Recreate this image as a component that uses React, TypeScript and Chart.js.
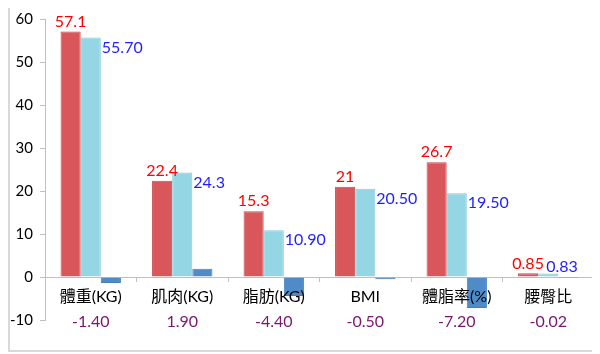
import React, { useEffect, useRef } from "react";
import { Chart, registerables } from "chart.js";
Chart.register(...registerables);

const categories = ["體重(KG)", "肌肉(KG)", "脂肪(KG)", "BMI", "體脂率(%)", "腰臀比"];
const beforeValues = [57.1, 22.4, 15.3, 21, 26.7, 0.85];
const afterValues = [55.7, 24.3, 10.9, 20.5, 19.5, 0.83];
const changeValues = [-1.4, 1.9, -4.4, -0.5, -7.2, -0.02];
const beforeLabels = ["57.1", "22.4", "15.3", "21", "26.7", "0.85"];
const afterLabels = ["55.70", "24.3", "10.90", "20.50", "19.50", "0.83"];
const changeLabels = ["-1.40", "1.90", "-4.40", "-0.50", "-7.20", "-0.02"];
const yMin = -10;
const yMax = 60;
const yStep = 10;

const FONT = 'Lato, "Noto Sans CJK TC", sans-serif';

const labelPlugin = {
  id: "valueLabels",
  afterDraw(chart: any) {
    const ctx = chart.ctx;
    const zero = chart.scales.y.getPixelForValue(0);
    ctx.save();
    ctx.font = `16px ${FONT}`;
    const m0 = chart.getDatasetMeta(0);
    m0.data.forEach((bar: any, i: number) => {
      ctx.fillStyle = "#FF0000";
      ctx.textAlign = "center";
      ctx.textBaseline = "bottom";
      ctx.fillText(beforeLabels[i], bar.x, bar.y - 2);
    });
    const m1 = chart.getDatasetMeta(1);
    m1.data.forEach((bar: any, i: number) => {
      const h = zero - bar.y;
      ctx.fillStyle = "#1E1EFF";
      ctx.textAlign = "left";
      ctx.textBaseline = "middle";
      if (h < 15) {
        ctx.fillText(afterLabels[i], bar.x - 2, bar.y - 7);
      } else {
        ctx.fillText(afterLabels[i], bar.x + bar.width / 2 + 1, bar.y + 10);
      }
    });
    ctx.fillStyle = "#7A1570";
    ctx.textAlign = "center";
    ctx.textBaseline = "middle";
    categories.forEach((_, i) => {
      const cx = chart.scales.x.getPixelForValue(i);
      ctx.fillText(changeLabels[i], cx, zero + 45);
    });
    ctx.restore();
  },
};

export default function App() {
  const ref = useRef<HTMLCanvasElement>(null);
  useEffect(() => {
    if (!ref.current) return;
    const chart = new Chart(ref.current, {
      type: "bar",
      data: {
        labels: categories,
        datasets: [
          {
            data: beforeValues,
            backgroundColor: "#D9575A",
            borderColor: "#C94A4D",
            borderWidth: 1,
          },
          {
            data: afterValues,
            backgroundColor: "#95D6E5",
            borderColor: "#86CBDB",
            borderWidth: 1,
          },
          {
            data: changeValues,
            backgroundColor: "#4F8BC8",
            borderColor: "#4580BD",
            borderWidth: 1,
          },
        ],
      },
      options: {
        animation: false,
        responsive: true,
        maintainAspectRatio: false,
        layout: { padding: { top: 11, bottom: 30, left: 0, right: 0 } },
        datasets: { bar: { categoryPercentage: 0.66, barPercentage: 1.0 } },
        plugins: { legend: { display: false }, tooltip: { enabled: false } },
        scales: {
          x: {
            type: "category",
            position: { y: 0 } as any,
            grid: {
              display: true,
              drawOnChartArea: false,
              offset: true,
              tickLength: 4,
              color: "#BFBFBF",
            },
            border: { display: true, color: "#BFBFBF", width: 1 },
            ticks: {
              z: 2,
              color: "#000000",
              font: { size: 16, family: FONT },
              padding: 6,
              maxRotation: 0,
              autoSkip: false,
            },
          },
          y: {
            min: yMin,
            max: yMax,
            grid: {
              display: true,
              drawOnChartArea: false,
              tickLength: 5,
              color: "#BFBFBF",
            },
            border: { display: true, color: "#BFBFBF", width: 1 },
            ticks: {
              stepSize: yStep,
              color: "#000000",
              font: { size: 15, family: FONT },
              padding: 7,
            },
            afterFit: (s: any) => {
              s.width = 35;
              s.paddingTop = 0;
              s.paddingBottom = 0;
            },
          },
        },
      },
      plugins: [labelPlugin],
    });
    return () => chart.destroy();
  }, []);
  return (
    <div
      style={{
        width: 588,
        height: 346,
        boxSizing: "border-box",
        border: "2px solid #d9d9d9",
        marginTop: -2,
        background: "#fff",
      }}
    >
      <div style={{ position: "relative", width: 584, height: 342 }}>
        <canvas ref={ref} />
      </div>
    </div>
  );
}
